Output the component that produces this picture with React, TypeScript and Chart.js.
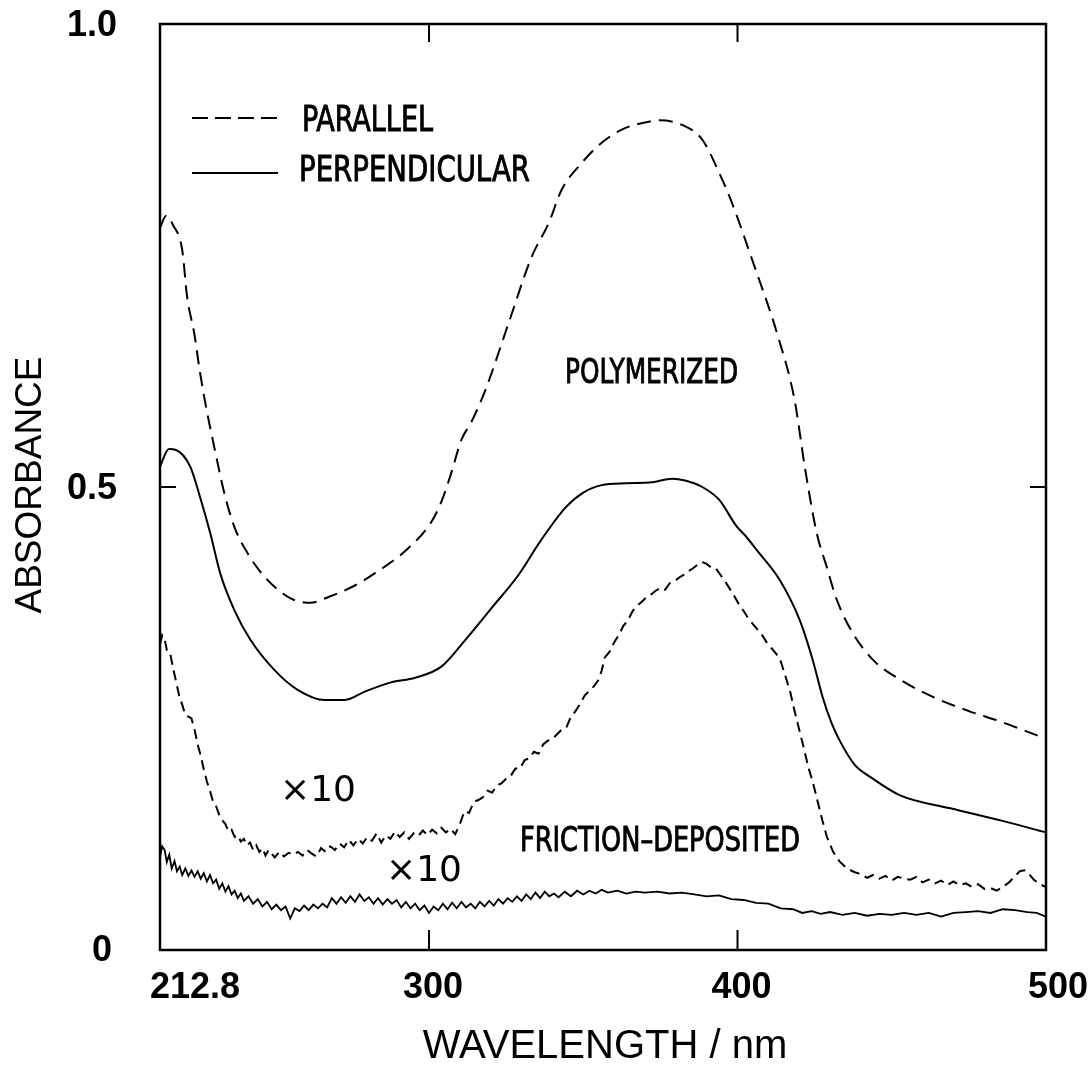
import React, { useEffect, useRef } from "react";
import { Chart, registerables } from "chart.js";

Chart.register(...registerables);

// ---------- data ----------
const X_MIN = 212.8;
const X_MAX = 500;
const Y_MIN = 0;
const Y_MAX = 1.0;

const X_TICKS = [212.8, 300, 400, 500];
const X_TICK_LABELS = ["212.8", "300", "400", "500"];
const Y_TICKS = [0, 0.5, 1.0];
const Y_TICK_LABELS = ["0", "0.5", "1.0"];

const X_TITLE = "WAVELENGTH / nm";
const Y_TITLE = "ABSORBANCE";
const LEGEND_LABELS = ["PARALLEL", "PERPENDICULAR"];
const NOTE_POLY = "POLYMERIZED";
const NOTE_FRICTION = "FRICTION–DEPOSITED";
const NOTE_X10 = "×10";

// Polymerized, parallel (dashed)
const WL_POLY_PAR = [
  212.8, 214.8, 217.0, 220.0, 221.6, 223.9, 225.8, 228.1, 230.4, 233.6, 236.9, 241.1, 246.7,
  255.0, 261.6, 268.0, 275.0, 282.5, 293.0, 300.7, 304.0, 307.2, 310.5, 313.7, 318.3, 325.8,
  333.2, 338.8, 343.0, 349.5, 355.7, 362.5, 370.4, 374.6, 382.1, 388.6, 394.1, 398.3, 405.0,
  413.0, 418.5, 421.8, 425.7, 428.9, 432.2, 437.4, 444.0, 452.7, 463.5, 475.0, 485.0, 493.0,
  500.0,
];
const ABS_POLY_PAR = [
  0.78, 0.793, 0.783, 0.756, 0.705, 0.666, 0.623, 0.58, 0.543, 0.494, 0.457, 0.429, 0.403,
  0.38, 0.375, 0.382, 0.392, 0.407, 0.433, 0.462, 0.484, 0.515, 0.551, 0.57, 0.605, 0.677,
  0.748, 0.785, 0.821, 0.85, 0.871, 0.886, 0.894, 0.896, 0.891, 0.875, 0.839, 0.806, 0.743,
  0.664, 0.594, 0.522, 0.45, 0.414, 0.378, 0.342, 0.313, 0.292, 0.273, 0.258, 0.247, 0.237,
  0.228,
];

// Polymerized, perpendicular (solid)
const WL_POLY_PERP = [
  212.8, 215.7, 218.0, 222.6, 225.8, 229.1, 232.3, 236.9, 242.1, 250.0, 257.4, 266.2, 272.7,
  279.2, 287.7, 295.5, 304.0, 311.8, 320.2, 329.0, 336.0, 344.3, 350.0, 356.0, 364.0, 372.3,
  378.8, 383.0, 388.6, 394.1, 399.6, 402.9, 406.2, 413.6, 420.2, 424.4, 427.6, 430.5, 433.3,
  438.0, 443.0, 452.7, 469.0, 485.3, 500.0,
];
const ABS_POLY_PERP = [
  0.522, 0.541, 0.54, 0.522, 0.489, 0.45, 0.407, 0.367, 0.335, 0.302, 0.281, 0.27, 0.27,
  0.279, 0.289, 0.294, 0.306, 0.335, 0.369, 0.405, 0.441, 0.478, 0.494, 0.502, 0.504, 0.505,
  0.509, 0.507, 0.5, 0.486, 0.458, 0.446, 0.432, 0.4, 0.356, 0.313, 0.273, 0.245, 0.225,
  0.2, 0.187, 0.167, 0.153, 0.14, 0.127,
];

// Friction-deposited ×10, parallel (dashed)
const WL_FRIC_PAR = [
  212.8, 213.5, 214.3, 215.0, 216.0, 217.0, 218.0, 219.0, 220.0, 221.0, 222.0, 223.0, 224.0,
  225.0, 226.0, 227.0, 228.0, 229.0, 230.0, 231.0, 232.0, 233.0, 234.0, 235.0, 236.0, 237.0,
  238.0, 239.0, 240.0, 241.0, 242.0, 243.0, 244.0, 245.0, 246.0, 247.0, 248.0, 249.0, 250.0,
  251.5, 253.0, 254.5, 256.0, 257.5, 259.0, 260.5, 262.0, 263.5, 265.0, 266.5, 268.0, 269.5,
  271.0, 272.5, 274.0, 275.5, 277.0, 278.5, 280.0, 281.5, 283.0, 284.5, 286.0, 287.5, 289.0,
  290.5, 292.0, 293.5, 295.0, 296.5, 298.0, 299.5, 301.0, 302.5, 304.0, 305.5, 307.0, 308.5,
  310.0, 311.5, 313.0, 314.5, 316.0, 317.5, 319.0, 320.5, 322.0, 323.5, 325.0, 326.5, 328.0,
  329.5, 331.0, 332.5, 334.0, 335.5, 337.0, 338.5, 340.0, 341.5, 343.0, 344.5, 346.0, 347.5,
  349.0, 350.5, 352.0, 353.5, 355.0, 356.0, 357.0, 358.5, 360.0, 361.5, 363.0, 364.5, 366.0,
  367.5, 369.0, 370.5, 372.0, 373.5, 375.0, 376.5, 378.0, 379.5, 381.0, 382.5, 384.0, 385.5,
  387.0, 388.5, 390.0, 391.5, 393.0, 394.5, 396.0, 397.5, 399.0, 400.5, 402.0, 403.5, 405.0,
  406.5, 408.0, 409.5, 411.0, 412.5, 414.0, 415.5, 417.0, 418.5, 420.0, 421.5, 423.0, 424.5,
  426.0, 427.5, 429.0, 431.0, 433.0, 435.5, 438.0, 440.0, 442.0, 444.0, 446.0, 448.0, 450.0,
  452.0, 454.0, 456.0, 458.0, 460.0, 462.0, 464.0, 466.0, 468.0, 470.0, 472.0, 474.0, 476.0,
  478.0, 480.0, 482.0, 484.0, 486.0, 488.0, 490.0, 491.5, 493.0, 494.5, 496.0, 498.0, 500.0,
];
const ABS_FRIC_PAR = [
  0.33, 0.34, 0.336, 0.324, 0.322, 0.305, 0.29, 0.275, 0.265, 0.254, 0.252, 0.25, 0.238,
  0.222, 0.21, 0.195, 0.182, 0.172, 0.16, 0.155, 0.146, 0.14, 0.136, 0.128, 0.13, 0.122,
  0.124, 0.117, 0.12, 0.113, 0.116, 0.108, 0.113, 0.106, 0.11, 0.102, 0.108, 0.104, 0.1,
  0.106, 0.101, 0.105, 0.103, 0.106, 0.102, 0.108, 0.104, 0.101, 0.11, 0.106, 0.112, 0.108,
  0.115, 0.111, 0.119, 0.113, 0.12, 0.115, 0.122, 0.118, 0.126, 0.116, 0.124, 0.12, 0.128,
  0.122, 0.127, 0.12, 0.126, 0.123, 0.129, 0.124, 0.13, 0.126, 0.132, 0.127, 0.131, 0.125,
  0.136, 0.15, 0.148, 0.16, 0.162, 0.165, 0.172, 0.17, 0.178, 0.18, 0.185, 0.188, 0.196,
  0.196, 0.205, 0.207, 0.214, 0.212, 0.222, 0.226, 0.228, 0.233, 0.238, 0.24, 0.252, 0.258,
  0.266, 0.275, 0.28, 0.285, 0.292, 0.302, 0.316, 0.322, 0.332, 0.34, 0.35, 0.356, 0.366,
  0.372, 0.376, 0.381, 0.384, 0.388, 0.391, 0.389, 0.396, 0.398, 0.402, 0.405, 0.409, 0.412,
  0.416, 0.419, 0.417, 0.413, 0.412, 0.405, 0.398, 0.39, 0.382, 0.373, 0.366, 0.358, 0.352,
  0.346, 0.34, 0.332, 0.326, 0.32, 0.312, 0.296, 0.28, 0.258, 0.238, 0.218, 0.197, 0.18,
  0.16, 0.14, 0.122, 0.106, 0.096, 0.088, 0.084, 0.082, 0.078, 0.081, 0.077, 0.08, 0.075,
  0.079, 0.077, 0.076, 0.079, 0.073, 0.076, 0.072, 0.075, 0.07, 0.074, 0.07, 0.072, 0.068,
  0.071, 0.066, 0.067, 0.064, 0.068, 0.073, 0.08, 0.085, 0.086, 0.082, 0.076, 0.071, 0.068,
];

// Friction-deposited ×10, perpendicular (solid)
const WL_FRIC_PERP = [
  212.8, 213.5, 214.3, 215.0, 215.8, 216.6, 217.5, 218.3, 219.2, 220.0, 221.0, 222.0, 223.0,
  224.0, 225.0, 226.0, 227.0, 228.0, 229.0, 230.0, 231.0, 232.0, 233.0, 234.0, 235.0, 236.0,
  237.0, 238.0, 239.0, 240.0, 241.5, 243.0, 244.5, 246.0, 247.5, 249.0, 250.5, 252.0, 253.5,
  255.0, 256.5, 258.0, 259.5, 261.0, 262.5, 264.0, 265.5, 267.0, 268.5, 270.0, 271.5, 273.0,
  274.5, 276.0, 277.5, 279.0, 280.5, 282.0, 283.5, 285.0, 286.5, 288.0, 289.5, 291.0, 292.5,
  294.0, 295.5, 297.0, 298.5, 300.0, 301.5, 303.0, 304.5, 306.0, 307.5, 309.0, 310.5, 312.0,
  313.5, 315.0, 316.5, 318.0, 319.5, 321.0, 322.5, 324.0, 325.5, 327.0, 328.5, 330.0, 331.5,
  333.0, 334.5, 336.0, 337.5, 339.0, 340.5, 342.0, 344.0, 346.0, 348.0, 350.0, 352.0, 354.0,
  356.0, 358.0, 361.0, 364.0, 367.0, 370.0, 374.0, 378.0, 382.0, 386.0, 390.0, 394.0, 398.0,
  402.0, 406.0, 410.0, 414.0, 418.0, 421.0, 424.0, 427.0, 430.0, 434.0, 438.0, 442.0, 446.0,
  450.0, 454.0, 458.0, 462.0, 466.0, 470.0, 474.0, 478.0, 482.0, 486.0, 490.0, 494.0, 497.0,
  500.0,
];
const ABS_FRIC_PERP = [
  0.1, 0.112, 0.108, 0.095, 0.103, 0.088, 0.096, 0.085, 0.09, 0.081, 0.088, 0.08, 0.086,
  0.079, 0.085, 0.077, 0.083, 0.074, 0.081, 0.072, 0.076, 0.066, 0.072, 0.063, 0.069, 0.06,
  0.064, 0.056, 0.061, 0.053, 0.058, 0.05, 0.055, 0.047, 0.052, 0.044, 0.049, 0.043, 0.047,
  0.034, 0.045, 0.042, 0.048, 0.043, 0.049, 0.045, 0.05, 0.046, 0.056, 0.05, 0.057, 0.051,
  0.058, 0.052, 0.06, 0.053, 0.057, 0.05, 0.056, 0.049, 0.055, 0.05, 0.054, 0.046, 0.052,
  0.045, 0.05, 0.043, 0.048, 0.04, 0.047, 0.043, 0.05, 0.044, 0.051, 0.045, 0.052, 0.046,
  0.05, 0.045, 0.052, 0.047, 0.053, 0.048, 0.055, 0.05, 0.056, 0.052, 0.058, 0.053, 0.06,
  0.055, 0.062, 0.056, 0.063, 0.058, 0.061, 0.057, 0.063, 0.058, 0.064, 0.06, 0.064, 0.061,
  0.065, 0.062, 0.064, 0.061, 0.063, 0.062, 0.063, 0.061, 0.062, 0.06, 0.058, 0.059, 0.055,
  0.054, 0.051, 0.05, 0.045, 0.044, 0.04, 0.042, 0.039, 0.041, 0.038, 0.04, 0.037, 0.039,
  0.038, 0.04, 0.038, 0.04, 0.036, 0.04, 0.041, 0.042, 0.04, 0.044, 0.043, 0.041, 0.04,
  0.036,
];

// ---------- helpers ----------
const pts = (xs: number[], ys: number[]) => xs.map((x, i) => ({ x, y: ys[i] }));

const FONT_SANS = "'Liberation Sans', Arial, Helvetica, sans-serif";
const FONT_NARROW = "'Liberation Sans Narrow', 'DejaVu Sans Condensed', 'Liberation Sans', sans-serif";

// draw text condensed horizontally so it spans the given width from `left`
function fitText(
  ctx: CanvasRenderingContext2D,
  text: string,
  left: number,
  midY: number,
  width: number,
  font: string,
  stroke: number
) {
  ctx.save();
  ctx.font = font;
  ctx.textAlign = "left";
  ctx.textBaseline = "middle";
  const w = ctx.measureText(text).width || width;
  const s = width / w;
  ctx.translate(left, midY);
  ctx.scale(s, 1);
  ctx.fillText(text, 0, 0);
  if (stroke > 0) {
    ctx.lineWidth = stroke;
    ctx.strokeText(text, 0, 0);
  }
  ctx.restore();
}

const decorPlugin = {
  id: "decor",
  afterDraw(chart: any) {
    const ctx = chart.ctx as CanvasRenderingContext2D;
    const a = chart.chartArea;
    const xs = chart.scales.x;
    const ys = chart.scales.y;
    ctx.save();
    ctx.strokeStyle = "#000";
    ctx.fillStyle = "#000";
    ctx.setLineDash([]);
    // frame
    ctx.lineWidth = 2.5;
    ctx.strokeRect(a.left, a.top, a.right - a.left, a.bottom - a.top);
    // inner tick marks
    ctx.lineWidth = 2;
    X_TICKS.forEach((v) => {
      if (v === X_MIN || v === X_MAX) return;
      const px = xs.getPixelForValue(v);
      ctx.beginPath();
      ctx.moveTo(px, a.bottom);
      ctx.lineTo(px, a.bottom - 20);
      ctx.moveTo(px, a.top);
      ctx.lineTo(px, a.top + 18);
      ctx.stroke();
    });
    Y_TICKS.forEach((v) => {
      if (v === Y_MIN || v === Y_MAX) return;
      const py = ys.getPixelForValue(v);
      ctx.beginPath();
      ctx.moveTo(a.left, py);
      ctx.lineTo(a.left + 16, py);
      ctx.moveTo(a.right, py);
      ctx.lineTo(a.right - 16, py);
      ctx.stroke();
    });
    // tick labels
    ctx.font = `bold 36px ${FONT_SANS}`;
    ctx.textBaseline = "middle";
    X_TICKS.forEach((v, i) => {
      const px = xs.getPixelForValue(v);
      const y = a.bottom + 38;
      if (i === 0) {
        ctx.textAlign = "left";
        ctx.fillText(X_TICK_LABELS[i], px - 10, y);
      } else if (i === X_TICKS.length - 1) {
        ctx.textAlign = "center";
        ctx.fillText(X_TICK_LABELS[i], px + 12, y);
      } else {
        ctx.textAlign = "center";
        ctx.fillText(X_TICK_LABELS[i], px + 4, y);
      }
    });
    Y_TICKS.forEach((v, i) => {
      const py = ys.getPixelForValue(v);
      if (v === 0) {
        ctx.textAlign = "center";
        ctx.fillText(Y_TICK_LABELS[i], 102, py + 1);
      } else {
        ctx.textAlign = "right";
        ctx.fillText(Y_TICK_LABELS[i], a.left - 43, py + 2);
      }
    });
    // axis titles
    ctx.font = `40px ${FONT_SANS}`;
    ctx.textAlign = "center";
    ctx.fillText(X_TITLE, (a.left + a.right) / 2 + 2, a.bottom + 97);
    ctx.save();
    ctx.translate(31, (a.top + a.bottom) / 2 - 2);
    ctx.rotate(-Math.PI / 2);
    ctx.font = `37px ${FONT_SANS}`;
    ctx.fillText(Y_TITLE, 0, 0);
    ctx.restore();
    // legend
    ctx.lineWidth = 2;
    ctx.setLineDash([16, 7]);
    ctx.beginPath();
    ctx.moveTo(192, 118);
    ctx.lineTo(278, 118);
    ctx.stroke();
    ctx.setLineDash([]);
    ctx.beginPath();
    ctx.moveTo(192, 173);
    ctx.lineTo(278, 173);
    ctx.stroke();
    const legendFont = `36px ${FONT_NARROW}`;
    fitText(ctx, LEGEND_LABELS[0], 302, 122, 131, legendFont, 0.9);
    fitText(ctx, LEGEND_LABELS[1], 299, 172, 231, legendFont, 0.9);
    // annotations
    const noteFont = `34px ${FONT_NARROW}`;
    fitText(ctx, NOTE_POLY, 565, 374, 173, noteFont, 0.9);
    fitText(ctx, NOTE_FRICTION, 520, 842, 280, noteFont, 0.9);
    ctx.font = `36px 'DejaVu Sans', ${FONT_SANS}`;
    ctx.textAlign = "center";
    ctx.textBaseline = "middle";
    ctx.fillText(NOTE_X10, 318, 792);
    ctx.fillText(NOTE_X10, 424, 872);
    ctx.restore();
  },
};

export default function App() {
  const ref = useRef<HTMLCanvasElement | null>(null);
  useEffect(() => {
    document.body.style.margin = "0";
    const canvas = ref.current;
    if (!canvas) return;
    const chart = new Chart(canvas, {
      type: "line",
      data: {
        datasets: [
          {
            label: "POLYMERIZED PARALLEL",
            data: pts(WL_POLY_PAR, ABS_POLY_PAR),
            borderColor: "#000",
            borderWidth: 2,
            borderDash: [14, 8],
            pointRadius: 0,
            cubicInterpolationMode: "monotone",
            fill: false,
          },
          {
            label: "POLYMERIZED PERPENDICULAR",
            data: pts(WL_POLY_PERP, ABS_POLY_PERP),
            borderColor: "#000",
            borderWidth: 2,
            pointRadius: 0,
            cubicInterpolationMode: "monotone",
            fill: false,
          },
          {
            label: "FRICTION-DEPOSITED PARALLEL ×10",
            data: pts(WL_FRIC_PAR, ABS_FRIC_PAR),
            borderColor: "#000",
            borderWidth: 2,
            borderDash: [10, 6],
            pointRadius: 0,
            tension: 0,
            fill: false,
          },
          {
            label: "FRICTION-DEPOSITED PERPENDICULAR ×10",
            data: pts(WL_FRIC_PERP, ABS_FRIC_PERP),
            borderColor: "#000",
            borderWidth: 1.8,
            pointRadius: 0,
            tension: 0,
            fill: false,
          },
        ],
      },
      options: {
        animation: false,
        responsive: false,
        devicePixelRatio: 1,
        layout: { padding: { left: 160, right: 46, top: 24, bottom: 119 } },
        plugins: { legend: { display: false }, tooltip: { enabled: false } },
        scales: {
          x: { type: "linear", min: X_MIN, max: X_MAX, display: false },
          y: { type: "linear", min: Y_MIN, max: Y_MAX, display: false },
        },
      },
      plugins: [decorPlugin],
    });
    return () => chart.destroy();
  }, []);
  return (
    <div style={{ position: "absolute", left: 0, top: 0, width: 1092, height: 1069, background: "#fff" }}>
      <canvas ref={ref} width={1092} height={1069} style={{ width: 1092, height: 1069, display: "block" }} />
    </div>
  );
}
